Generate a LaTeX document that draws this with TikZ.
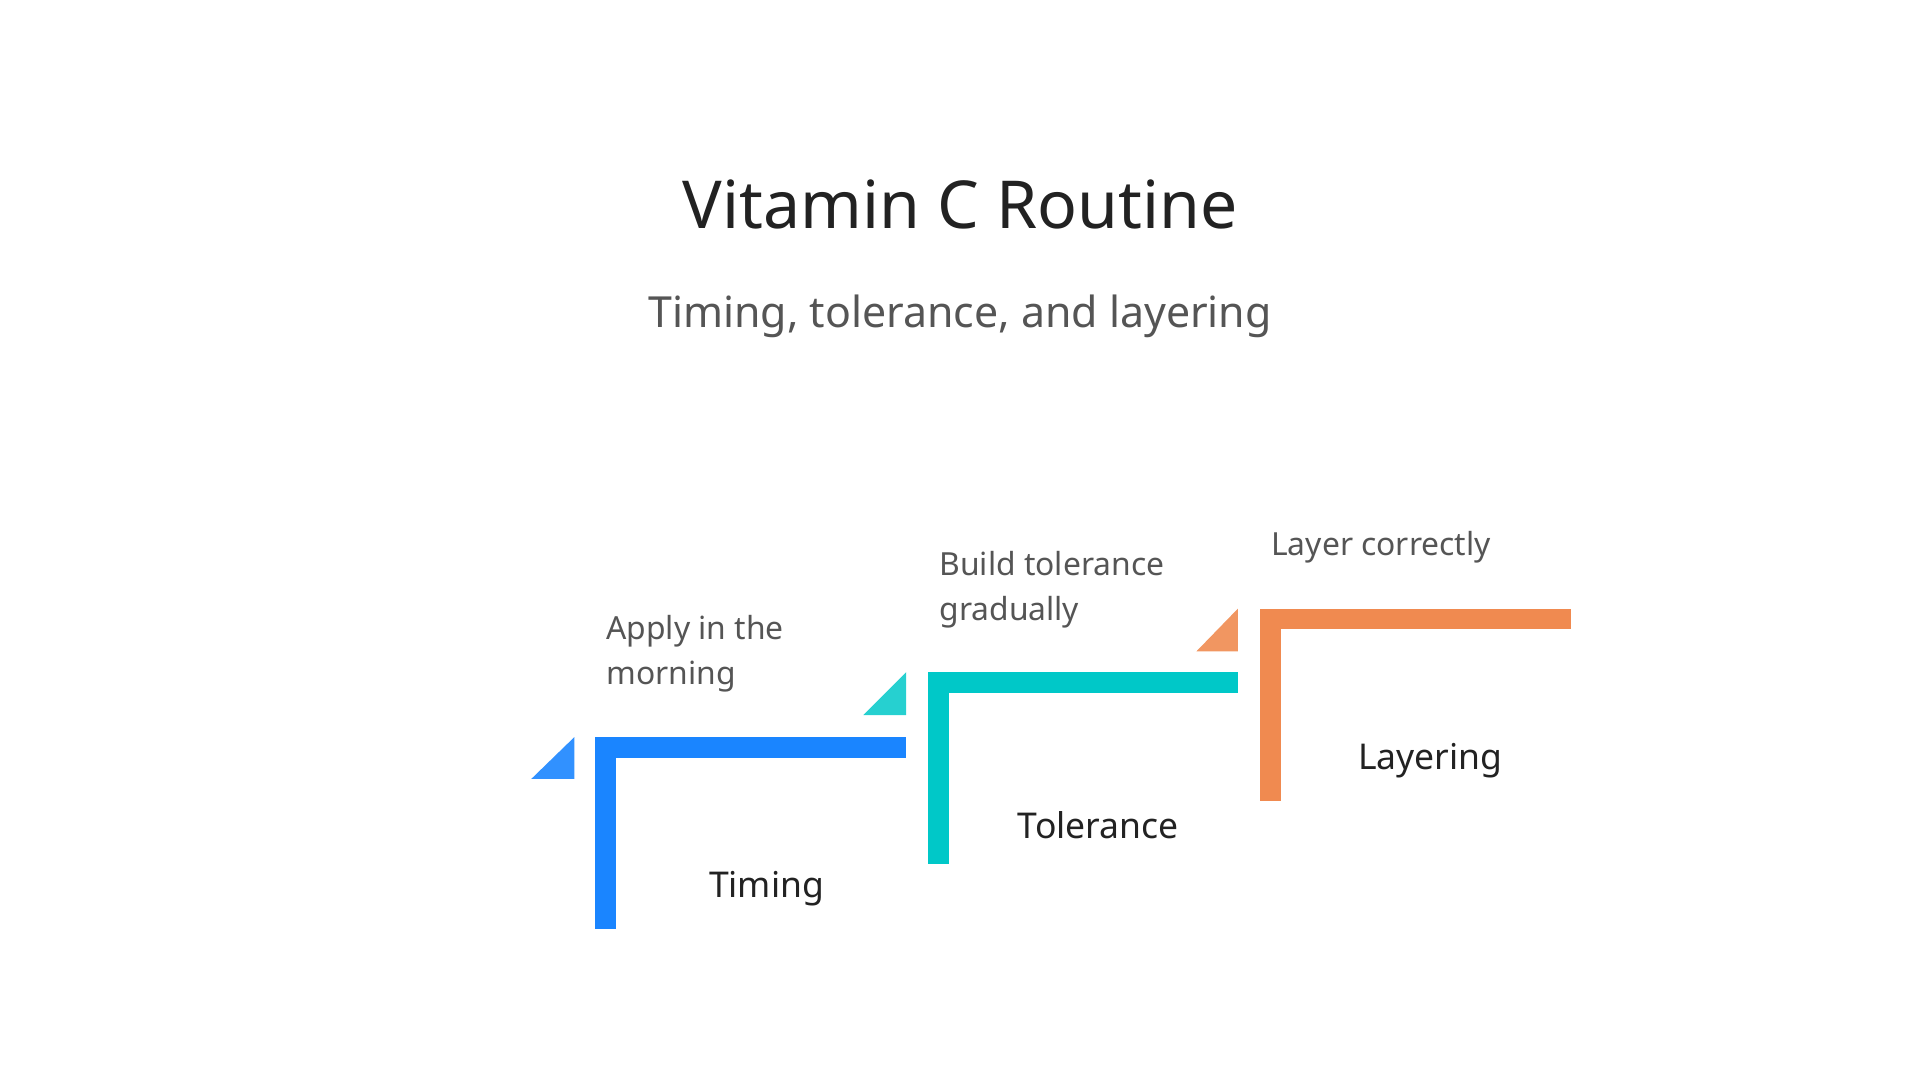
\documentclass[tikz,border=0pt]{standalone}
\usepackage{fontspec}
\setmainfont{Noto Sans}
\definecolor{cblue}{HTML}{1A85FF}
\definecolor{cteal}{HTML}{00C8C8}
\definecolor{corange}{HTML}{F08A50}
\definecolor{ctext}{HTML}{222222}
\definecolor{csub}{HTML}{555555}
\begin{document}
\begin{tikzpicture}[x=1pt,y=-1pt,
  desc/.style={anchor=north west,align=left,text=csub,font=\fontsize{26}{37}\selectfont,inner sep=0},
  lab/.style={text=ctext,font=\bfseries\fontsize{29}{34}\selectfont,inner sep=0}]
\useasboundingbox (0,0) rectangle (1568,882);
\node[text=ctext,font=\fontsize{54}{60}\selectfont] (title) at (784,167) {Vitamin C Routine};
\node[text=csub,font=\fontsize{35}{40}\selectfont] (sub) at (784,258) {Timing, tolerance, and layering};
% blue
\fill[cblue] (486,602) rectangle (740,619);
\fill[cblue] (486,602) rectangle (503,759);
\fill[cblue!90!white] (434,636) -- (469,602) -- (469,636) -- cycle;
\node[desc] (d1) at (495,502) {Apply in the\\morning};
\node[lab] (l1) at (626,726) {Timing};
% teal
\fill[cteal] (758,549) rectangle (1011,566);
\fill[cteal] (758,549) rectangle (775,706);
\fill[cteal!85!white] (705,584) -- (740,549) -- (740,584) -- cycle;
\node[desc] (d2) at (767,450) {Build tolerance\\gradually};
\node[lab] (l2) at (897,674) {Tolerance};
% orange
\fill[corange] (1029,497) rectangle (1283,514);
\fill[corange] (1029,497) rectangle (1046,654);
\fill[corange!90!white] (977,532) -- (1011,497) -- (1011,532) -- cycle;
\node[desc] (d3) at (1038,434) {Layer correctly};
\node[lab] (l3) at (1168,621) {Layering};
\end{tikzpicture}
\end{document}
